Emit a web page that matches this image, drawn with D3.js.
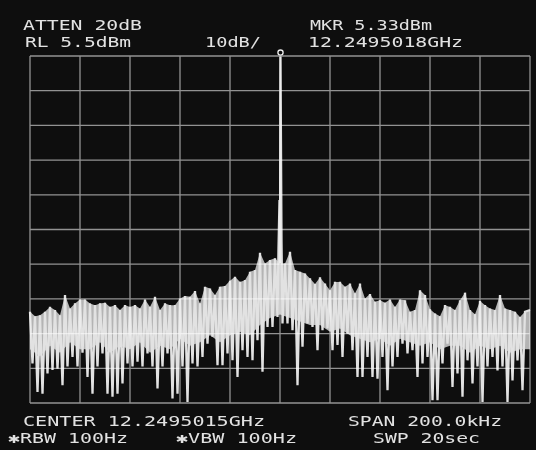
<!DOCTYPE html>
<html>
<head>
<meta charset="utf-8">
<script src="https://cdn.jsdelivr.net/npm/d3@7"></script>
<style>
  html, body { margin: 0; padding: 0; background: #0e0e0e; }
  svg { display: block; }
  text { font-family: "DejaVu Sans Mono", monospace; fill: #e2e2e2; }
</style>
</head>
<body>
<figure id="sa" style="margin:0"></figure>
<script>
// header / footer annotations of the analyser screen
const headerLeft = ["ATTEN 20dB", "RL 5.5dBm"];
const scaleLabel = "10dB/";
const headerRight = ["MKR 5.33dBm", "12.2495018GHz"];
const footerRow1 = ["CENTER 12.2495015GHz", "SPAN 200.0kHz"];
const footerRow2 = ["\u2731RBW 100Hz", "\u2731VBW 100Hz", "SWP 20sec"];

// reference level 5.5 dBm, 10 dB/div, 10 divisions; span 200 kHz
const refLevel = 5.5, dbPerDiv = 10, divs = 10;
const spanKHz = 200;

// trace, offset from centre in kHz -> dBm
// upper points every 2 kHz from -100 to +100
const traceHigh = [
  -68.2, -69.5, -69.2, -68.2, -66.8, -67.7, -69.2, -63.4, -67.3, -65.8, -64.7, -64.7, -65.8, -66.3, -65.8, -65.6, -66.8,
  -66.3, -67.7, -66.3, -66.8, -66.3, -67.3, -64.7, -66.8, -63.9, -67.7, -65.8, -66.3, -66.3, -64.4, -63.7, -63.9, -62.2,
  -65.8, -61.0, -61.5, -63.4, -61.0, -60.8, -59.3, -58.1, -59.6, -59.1, -56.7, -56.2, -51.2, -54.3, -53.3, -52.8,
  -54.3, -54.3, -50.9, -56.2, -56.7, -57.2, -58.6, -60.2, -58.3, -60.1, -62.0, -59.6, -59.6, -61.0, -60.1, -62.9, -60.1,
  -64.4, -63.1, -65.3, -64.9, -65.6, -64.7, -66.8, -64.7, -64.9, -68.2, -67.7, -62.0, -63.4, -67.5, -68.7, -69.5, -66.3,
  -66.8, -67.7, -64.9, -62.7, -67.7, -68.9, -65.1, -66.3, -67.3, -67.7, -63.4, -67.3, -67.7, -68.2, -69.7, -68.2, -67.7
];
// lower spike tips every 2 kHz from -99 to +99
const traceLow = [
  -83.1, -91.3, -91.8, -86.0, -85.0, -84.6, -89.4, -84.0, -81.2, -84.0, -80.0, -87.0, -91.8, -84.0, -80.2, -91.8, -92.7,
  -91.8, -88.9, -83.1, -84.0, -82.6, -84.0, -80.2, -84.0, -90.3, -84.0, -80.2, -93.2, -91.8, -84.0, -94.2, -83.1, -84.0,
  -81.2, -77.4, -75.4, -83.6, -83.6, -80.2, -82.2, -87.0, -79.3, -81.2, -82.2, -76.4, -85.5, -72.6, -72.6, -69.7,
  -71.6, -71.6, -73.5, -89.4, -78.3, -71.6, -72.6, -79.3, -73.5, -73.0, -79.3, -77.8, -81.2, -74.5, -79.3, -87.0, -87.0,
  -81.2, -87.0, -87.5, -81.2, -90.8, -84.0, -81.2, -77.4, -80.2, -79.3, -87.0, -83.1, -81.2, -93.7, -93.7, -83.1, -77.4,
  -89.9, -86.0, -92.7, -82.2, -88.9, -84.0, -94.2, -84.0, -81.2, -85.1, -84.0, -94.2, -88.0, -82.2, -90.8
];
// lower edge of the dense part of the noise, every 4 kHz from -100 to +100
const traceCore = [
  -79, -81, -78, -80, -77, -79, -79, -77, -80, -78,
  -79, -77, -80, -78, -79, -76, -78, -77, -75, -77,
  -75, -74, -75, -72, -70, -69, -70, -71, -72, -72,
  -74, -73, -75, -76, -77, -76, -78, -76, -77, -78,
  -77, -79, -78, -78, -80, -78, -79, -78, -80, -79,
  -79
];
// the carrier itself
const carrierKHz = [-0.6, -0.2, 0.2, 0.6];
const carrierDbm = [-50, -36, 5.33, -48];
const markerKHz = 0.2, markerDbm = 5.33;

const width = 536, height = 450;
const grid = {left: 30, right: 530, top: 56, bottom: 403};

const svg = d3.select("figure#sa")
  .append("svg")
  .attr("width", width)
  .attr("height", height);

svg.append("rect")
  .attr("width", width)
  .attr("height", height)
  .attr("fill", "#0e0e0e");

const x = d3.scaleLinear()
  .domain([-spanKHz / 2, spanKHz / 2])
  .range([grid.left, grid.right]);
const y = d3.scaleLinear()
  .domain([refLevel - dbPerDiv * divs, refLevel])
  .range([grid.bottom, grid.top]);

const line = d3.line()
  .x(d => x(d[0]))
  .y(d => y(d[1]));

const highPts = traceHigh.map((v, i) => [-100 + 2 * i, v]);
const lowPts = traceLow.map((v, i) => [-99 + 2 * i, v]);
const corePts = traceCore.map((v, i) => [-100 + 4 * i, v]);

// dense body of the noise band (shows through the gaps of the sweep)
svg.append("path")
  .attr("d", line(highPts.concat(corePts.slice().reverse())) + "Z")
  .attr("fill", "#b4b4b4");

// the sweep itself: high and low points interleaved, plus the carrier
const points = highPts.concat(lowPts);
carrierKHz.forEach((f, i) => points.push([f, carrierDbm[i]]));
points.sort((a, b) => a[0] - b[0]);

svg.append("path")
  .datum(points)
  .attr("d", line)
  .attr("fill", "none")
  .attr("stroke", "#e2e2e2")
  .attr("stroke-width", 2.3)
  .attr("stroke-linejoin", "miter");

// graticule on top, brightened where it crosses the trace
const g = svg.append("g")
  .attr("stroke", "#8c8c8c")
  .attr("stroke-width", 1.3)
  .style("mix-blend-mode", "screen");

g.selectAll("line.v")
  .data(d3.range(-spanKHz / 2, spanKHz / 2 + 1, spanKHz / divs))
  .enter().append("line")
  .attr("x1", d => x(d)).attr("x2", d => x(d))
  .attr("y1", grid.top).attr("y2", grid.bottom);

g.selectAll("line.h")
  .data(d3.range(0, divs + 1).map(i => refLevel - i * dbPerDiv))
  .enter().append("line")
  .attr("x1", grid.left).attr("x2", grid.right)
  .attr("y1", d => y(d)).attr("y2", d => y(d));

// marker
svg.append("circle")
  .attr("cx", x(markerKHz))
  .attr("cy", y(markerDbm) - 4)
  .attr("r", 2.6)
  .attr("fill", "#0e0e0e")
  .attr("stroke", "#f0f0f0")
  .attr("stroke-width", 1.3);

// annotations
function label(txt, px, py, len) {
  svg.append("text")
    .attr("x", px)
    .attr("y", py)
    .attr("font-size", 14)
    .attr("textLength", len)
    .attr("lengthAdjust", "spacingAndGlyphs")
    .text(txt);
}

label(headerLeft[0], 23, 30, 119);
label(headerLeft[1], 25, 47, 106);
label(scaleLabel, 205, 47, 56);
label(headerRight[0], 310, 30, 122);
label(headerRight[1], 308, 47, 155);

label(footerRow1[0], 23, 426, 242);
label(footerRow1[1], 348, 426, 154);
label(footerRow2[0], 8, 443, 120);
label(footerRow2[1], 176, 443, 121);
label(footerRow2[2], 373, 443, 107);
</script>
</body>
</html>
